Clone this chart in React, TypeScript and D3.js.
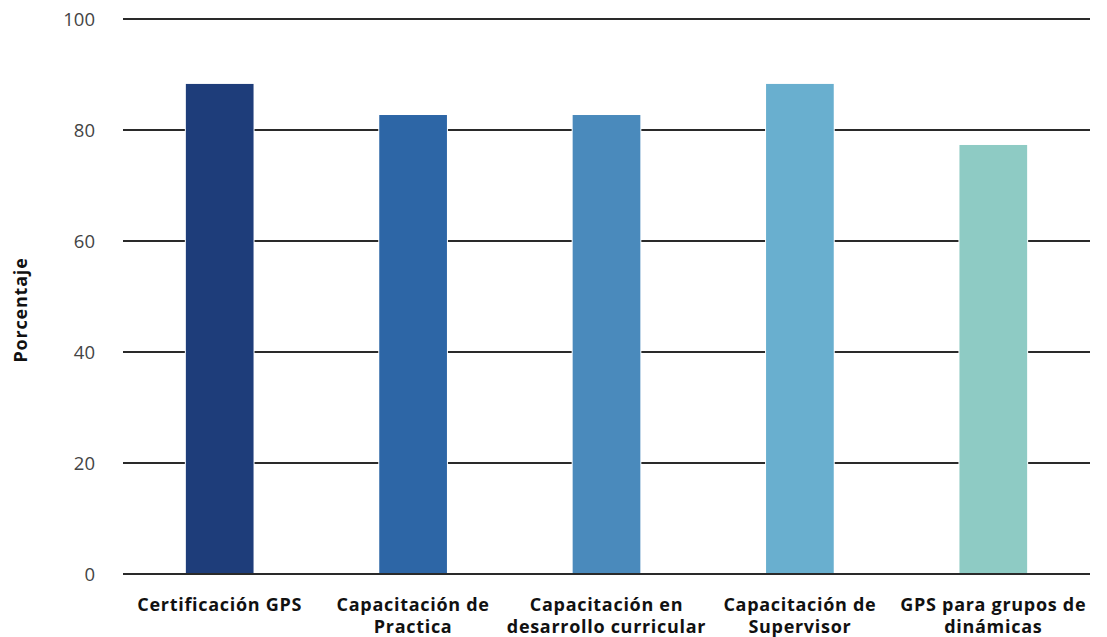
import React, { useEffect, useRef } from 'react';
import * as d3 from 'd3';

const categories = [
  ['Certificación GPS'],
  ['Capacitación de', 'Practica'],
  ['Capacitación en', 'desarrollo curricular'],
  ['Capacitación de', 'Supervisor'],
  ['GPS para grupos de', 'dinámicas'],
];
const values = [88.3, 82.7, 82.7, 88.3, 77.3];
const colors = ['#1e3d7a', '#2d66a6', '#4a8abc', '#69afcf', '#8ecbc4'];
const yTicks = [0, 20, 40, 60, 80, 100];

const width = 1107;
const height = 637;
const font = "'Open Sans', 'Liberation Sans', sans-serif";

const App: React.FC = () => {
  const svgRef = useRef<SVGSVGElement>(null);

  useEffect(() => {
    if (!svgRef.current) return;
    const svg = d3.select(svgRef.current);
    svg.selectAll('*').remove();

    const margin = { top: 19, right: 17, bottom: 63, left: 123 };

    const x = d3.scaleBand<number>()
      .domain(d3.range(categories.length))
      .range([margin.left, width - margin.right])
      .paddingInner(0.65)
      .paddingOuter(0.325);

    const y = d3.scaleLinear()
      .domain([0, 100])
      .range([height - margin.bottom, margin.top]);

    // сетка
    svg.append('g')
      .selectAll('line')
      .data(yTicks)
      .join('line')
      .attr('x1', margin.left)
      .attr('x2', width - margin.right)
      .attr('y1', d => y(d))
      .attr('y2', d => y(d))
      .attr('stroke', '#2a2a2a')
      .attr('stroke-width', 1.8);

    // подписи оси Y
    svg.append('g')
      .selectAll('text')
      .data(yTicks)
      .join('text')
      .attr('x', 95)
      .attr('y', d => y(d) + 1)
      .attr('dy', '0.35em')
      .attr('text-anchor', 'end')
      .attr('fill', '#444')
      .attr('font-family', font)
      .attr('font-size', 18.5)
      .text(d => d);

    // столбцы
    svg.append('g')
      .selectAll('rect')
      .data(values)
      .join('rect')
      .attr('x', (_, i) => x(i)!)
      .attr('y', d => y(d))
      .attr('width', x.bandwidth())
      .attr('height', d => y(0) - y(d))
      .attr('fill', (_, i) => colors[i])
      .attr('stroke', '#fff')
      .attr('stroke-width', 2)
      .attr('paint-order', 'stroke');

    // ось X
    svg.append('line')
      .attr('x1', margin.left)
      .attr('x2', width - margin.right)
      .attr('y1', y(0))
      .attr('y2', y(0))
      .attr('stroke', '#2a2a2a')
      .attr('stroke-width', 1.8);

    const labels = svg.append('g')
      .selectAll('text')
      .data(categories)
      .join('text')
      .attr('x', (_, i) => x(i)! + x.bandwidth() / 2)
      .attr('y', 611)
      .attr('text-anchor', 'middle')
      .attr('fill', '#111')
      .attr('font-family', font)
      .attr('font-weight', 'bold')
      .attr('font-size', 18)
      .attr('letter-spacing', 0.7);

    labels.selectAll('tspan')
      .data(d => d)
      .join('tspan')
      .attr('x', function () {
        return (this.parentNode as SVGTextElement).getAttribute('x');
      })
      .attr('dy', (_, j) => (j === 0 ? 0 : 22))
      .text(d => d);

    svg.append('text')
      .attr('transform', `translate(27,310) rotate(-90)`)
      .attr('text-anchor', 'middle')
      .attr('fill', '#111')
      .attr('font-family', font)
      .attr('font-weight', 'bold')
      .attr('font-size', 18)
      .attr('letter-spacing', 0.8)
      .text('Porcentaje');
  }, []);

  return (
    <svg
      ref={svgRef}
      width={width}
      height={height}
      style={{ position: 'absolute', left: 0, top: 0, background: '#fff' }}
    />
  );
};

export default App;
